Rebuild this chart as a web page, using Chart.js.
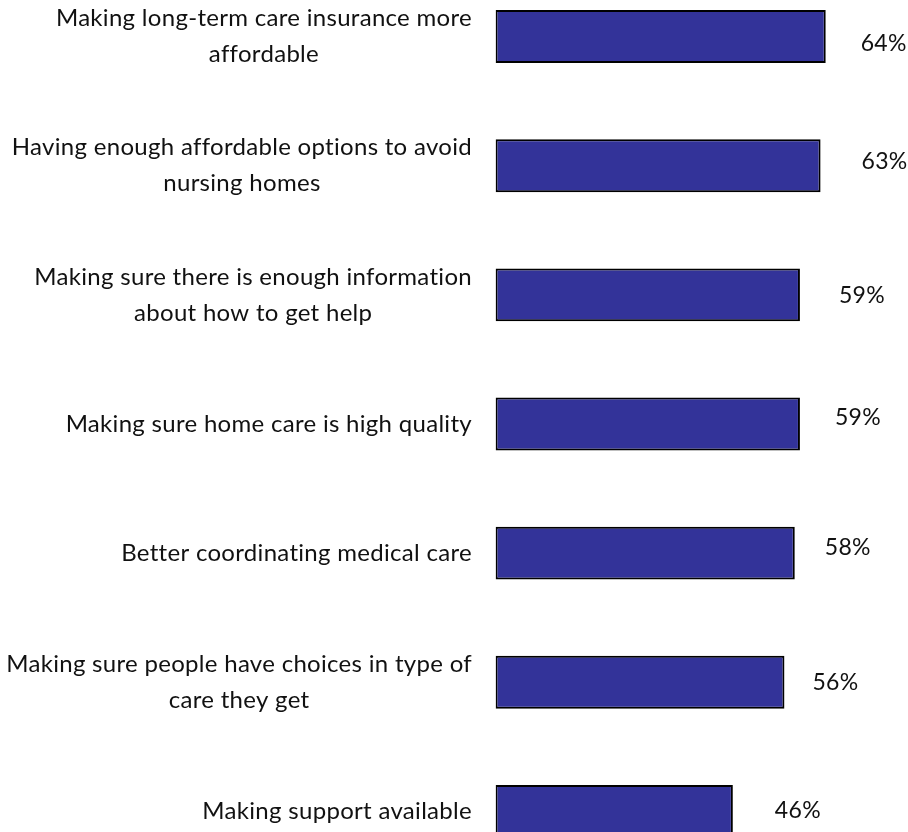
<!DOCTYPE html>
<html>
<head>
<meta charset="utf-8">
<script src="https://cdn.jsdelivr.net/npm/chart.js@4.4.1/dist/chart.umd.min.js"></script>
<style>
  html, body { margin: 0; padding: 0; background: #fff; overflow: hidden; }
  body { width: 908px; height: 832px; position: relative; }
  #wrap { position: absolute; left: 0; top: -28px; width: 908px; height: 904px; }
</style>
</head>
<body>
<div id="wrap"><canvas id="myChart"></canvas></div>
<script>
// survey items, each one split into the lines it is printed on
const categories = [
    ["Making long-term care insurance more", "affordable"],
    ["Having enough affordable options to avoid", "nursing homes"],
    ["Making sure there is enough information", "about how to get help"],
    ["Making sure home care is high quality"],
    ["Better coordinating medical care"],
    ["Making sure people have choices in type of", "care they get"],
    ["Making support available"]
];
const percents = [64, 63, 59, 59, 58, 56, 46];

// small hand nudges for the value labels [dx, dy]
const labelNudge = [[-1, 7], [5, -4], [3, 1], [-1, -6], [-6, -6], [-8, 0], [6, -1]];

const fontFamily = "Lato, 'Open Sans', sans-serif";

const textPlugin = {
    id: 'sideText',
    afterDatasetsDraw(chart) {
        const ctx = chart.ctx;
        const yScale = chart.scales.y;
        const bars = chart.getDatasetMeta(0).data;
        ctx.save();
        ctx.fillStyle = '#111';
        ctx.textBaseline = 'middle';
        ctx.textAlign = 'center';
        // a little tracking, also keeps Lato from joining "ti"
        ctx.letterSpacing = '0.3px';

        // category text, right edge kept near the bars, lines centred on each other
        ctx.font = '24px ' + fontFamily;
        const rightEdge = 472;
        const lineH = 36;
        categories.forEach((lines, i) => {
            const yc = yScale.getPixelForValue(i);
            const widest = Math.max(...lines.map(l => ctx.measureText(l).width));
            const xc = rightEdge - widest / 2;
            const top = yc - (lines.length - 1) * lineH / 2;
            lines.forEach((l, j) => ctx.fillText(l, xc, top + j * lineH));
        });

        // percentages beyond the end of each bar
        ctx.font = '23px ' + fontFamily;
        bars.forEach((bar, i) => {
            const n = labelNudge[i];
            ctx.fillText(percents[i] + '%', bar.x + 59 + n[0], bar.y + n[1]);
        });
        ctx.restore();
    }
};

const getChart = document.getElementById('myChart');

const careChart = new Chart(getChart, {
    type: 'bar',
    data: {
        labels: categories,
        datasets: [{
            data: percents,
            backgroundColor: '#333399',
            borderColor: '#000',
            borderWidth: 2,
            borderSkipped: false,
            barPercentage: 0.41,
            categoryPercentage: 1
        }]
    },
    options: {
        indexAxis: 'y',
        responsive: true,
        maintainAspectRatio: false,
        animation: false,
        layout: {
            padding: { left: 495.5, right: 51.3, top: 0, bottom: 0 }
        },
        plugins: {
            legend: { display: false },
            tooltip: { enabled: false }
        },
        scales: {
            x: {
                display: false,
                min: 0,
                max: 70
            },
            y: {
                display: false
            }
        }
    },
    plugins: [textPlugin]
});
</script>
</body>
</html>
